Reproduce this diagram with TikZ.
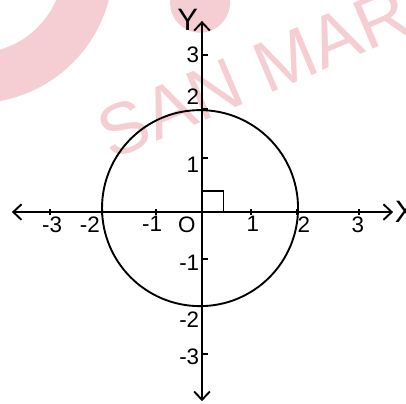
\documentclass[tikz,border=0pt]{standalone}
\usepackage{fontspec}
\setmainfont{Liberation Sans}
\usetikzlibrary{arrows.meta}
\definecolor{markpink}{RGB}{244,206,210}
\begin{document}
\begin{tikzpicture}[
    axis/.style={line width=1.1pt, {Straight Barb[length=1.7mm,width=3.2mm]}-{Straight Barb[length=1.7mm,width=3.2mm]}},
    tick/.style={line width=1pt},
    ticklabel/.style={inner sep=0pt, font=\fontsize{13}{15}\selectfont},
    axislabel/.style={inner sep=0pt, font=\fontsize{18}{20}\selectfont}
]
    \useasboundingbox (-4.122,-3.898) rectangle (4.163,4.327);

    % Watermark
    \begin{scope}
        \clip (-4.122,-3.898) rectangle (4.163,4.327);
        \draw[markpink, line width=29pt] (-4.63,5.04) circle (2.31);
        \fill[markpink] (-0.04,4.27) circle (0.61);
        \node[markpink, rotate=23, font=\fontsize{42}{45}\selectfont] (mark) at (1.06,2.84) {SAN MAR};
    \end{scope}

    % Axes
    \coordinate (O) at (0,0);
    \coordinate (xl) at (-3.88,0);
    \coordinate (xr) at (3.90,0);
    \coordinate (yb) at (0,-3.86);
    \coordinate (yt) at (0,3.90);
    \draw[axis] (xl) -- (xr);
    \draw[axis] (yb) -- (yt);
    \node[axislabel, anchor=west] (xlab) at (3.93,0) {X};
    \node[axislabel] (ylab) at (-0.29,3.92) {Y};

    % Ticks on x axis
    \foreach \x/\lab/\lx in {-3.10/-3/-3.06, -2.04/-2/-2.29, -0.94/-1/-1.02, 1.0/1/1.04, 1.94/2/2.08, 3.2/3/3.18} {
        \draw[tick] (\x,-0.07) -- (\x,0.07);
        \node[ticklabel] at (\lx,-0.25) {\lab};
    }
    \node[ticklabel] (O-lab) at (-0.31,-0.25) {O};

    % Ticks on y axis
    \foreach \y/\lab/\ly in {3.2/3/3.2, 2.1/2/2.35, 1.1/1/0.96, -0.96/-1/-1.04, -1.92/-2/-2.2, -2.9/-3/-2.96} {
        \draw[tick] (0,\y) -- (0.12,\y);
        \node[ticklabel, anchor=east] at (-0.05,\ly) {\lab};
    }

    % Circle and right angle
    \draw[line width=1.1pt] (-0.04,0.08) circle (2.0);
    \draw[line width=1pt] (O) rectangle (0.44,0.43);
\end{tikzpicture}
\end{document}
